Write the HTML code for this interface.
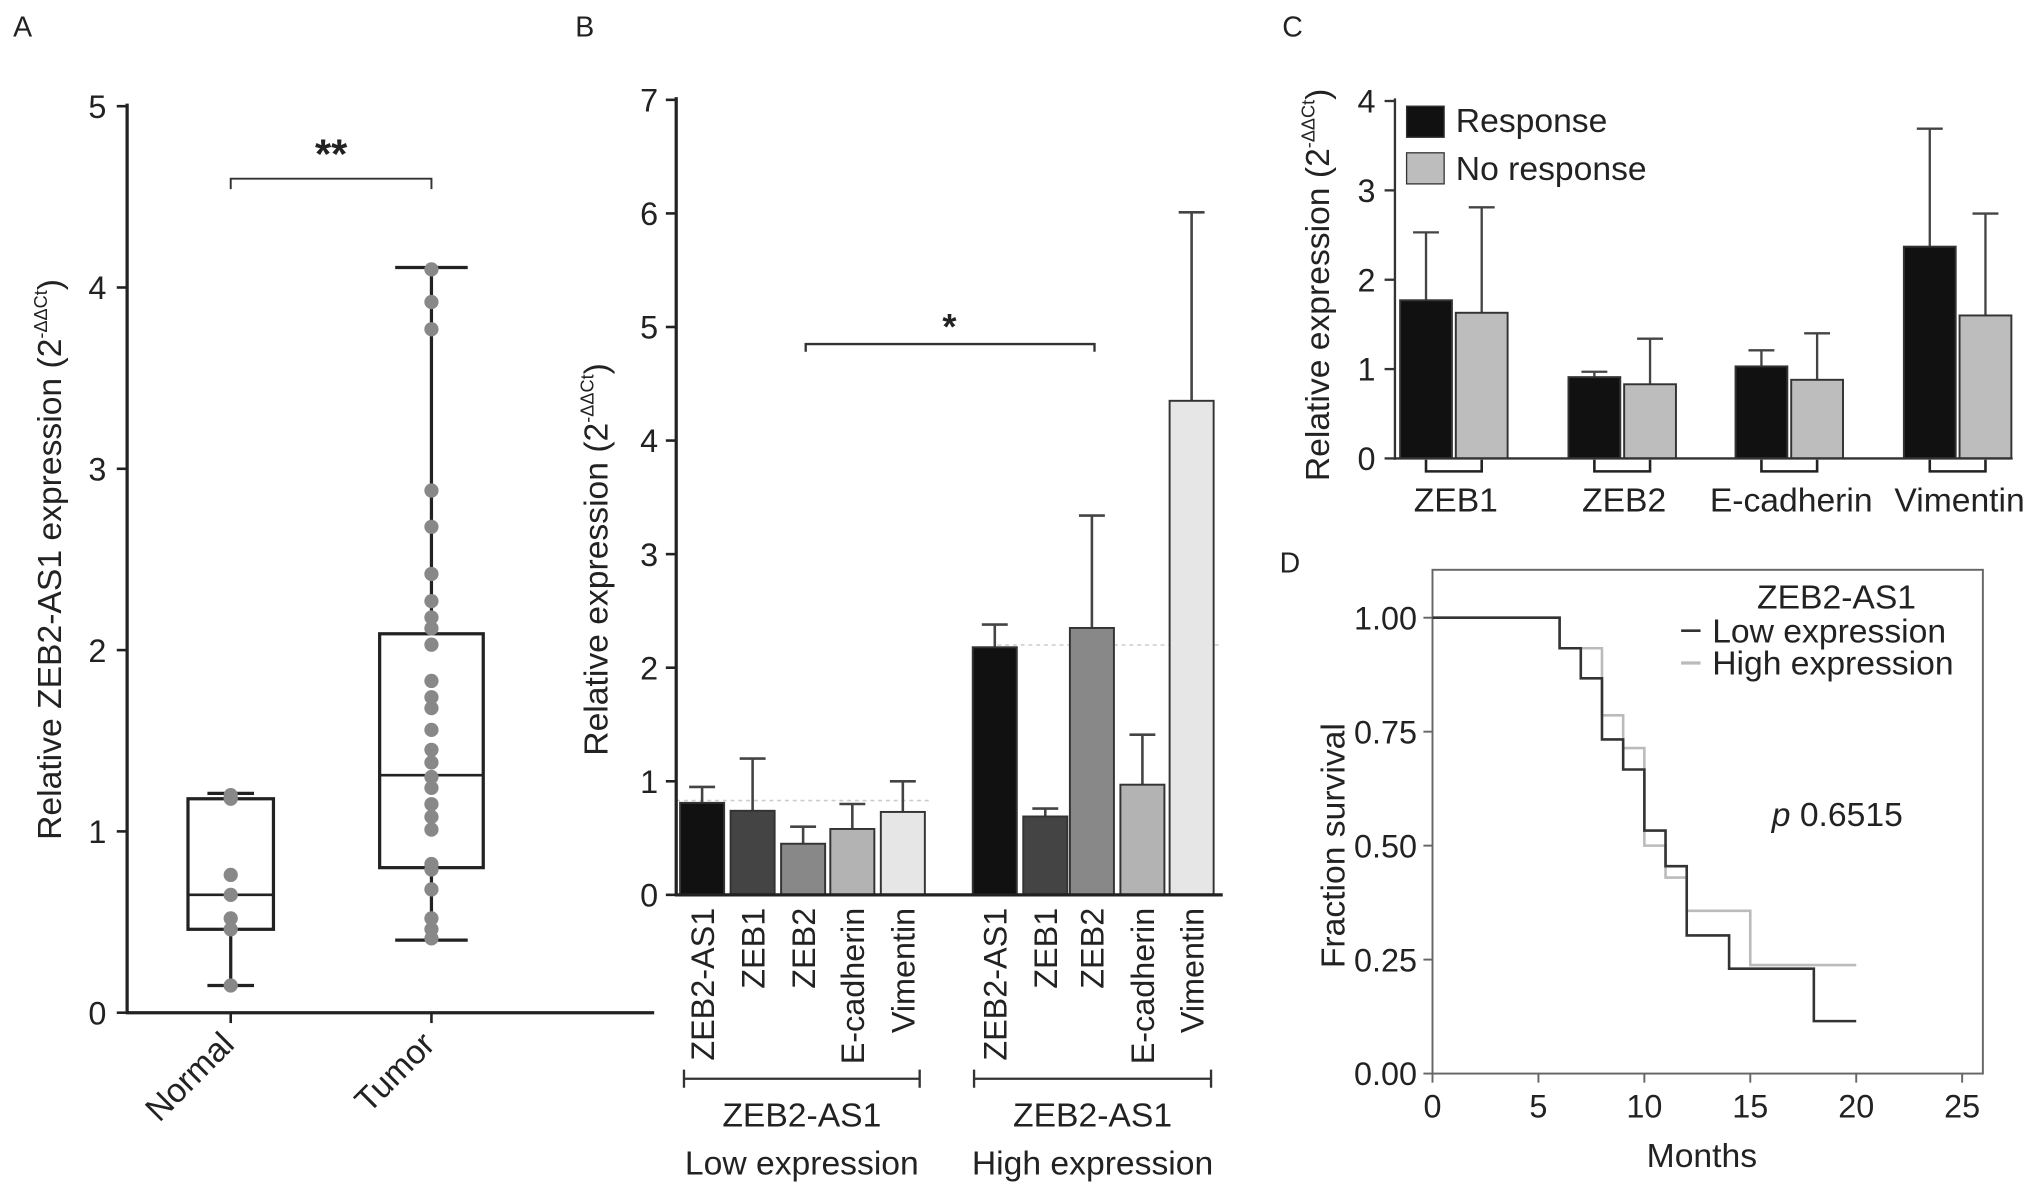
<!DOCTYPE html>
<html><head><meta charset="utf-8"><style>
html,body{margin:0;padding:0;background:#fff}
svg{display:block}
text{font-family:"Liberation Sans",sans-serif;fill:#222}
</style></head><body>
<svg id="fig" width="2031" height="1194" viewBox="0 0 1568 922" xmlns="http://www.w3.org/2000/svg">
<text x="10" y="28" font-size="22">A</text>
<text x="444" y="28" font-size="22">B</text>
<text x="990" y="28" font-size="22">C</text>
<text x="988" y="442" font-size="22">D</text>
<g id="A"></g>
<g id="B"></g>
<g id="C"></g>
<g id="D"></g>
</svg>
<script>
// ---- Panel A data
const aCategories = ["Normal","Tumor"];
const aTicks = [0,1,2,3,4,5];
const aNormalPoints = [1.2,1.18,0.76,0.65,0.52,0.46,0.15];
const aTumorPoints = [4.1,3.92,3.77,2.88,2.68,2.42,2.27,2.18,2.12,2.03,1.83,1.74,1.68,1.56,1.45,1.38,1.3,1.24,1.15,1.08,1.01,0.82,0.79,0.68,0.52,0.46,0.41];
const aNormalBox = [0.15,0.46,0.65,1.18,1.21];
const aTumorBox = [0.4,0.8,1.31,2.09,4.11];
// ---- Panel B data
const bGroups = ["Low expression","High expression"];
const bGenes = ["ZEB2-AS1","ZEB1","ZEB2","E-cadherin","Vimentin"];
const bTicks = [0,1,2,3,4,5,6,7];
const bLowValues = [0.81,0.74,0.45,0.58,0.73];
const bLowErrors = [0.95,1.2,0.6,0.8,1.0];
const bHighValues = [2.18,0.69,2.35,0.97,4.35];
const bHighErrors = [2.38,0.76,3.34,1.41,6.01];
// ---- Panel C data
const cGenes = ["ZEB1","ZEB2","E-cadherin","Vimentin"];
const cTicks = [0,1,2,3,4];
const cResponse = [1.77,0.91,1.03,2.37];
const cResponseErr = [2.53,0.97,1.21,3.69];
const cNoResponse = [1.63,0.83,0.88,1.6];
const cNoResponseErr = [2.81,1.34,1.4,2.74];
// ---- Panel D data
const dXTicks = [0,5,10,15,20,25];
const dYTicks = [0,0.25,0.5,0.75,1.0];
const dLowTimes = [0,6,7,8,9,10,11,12,14,18,20];
const dLowSurv = [1,0.933,0.867,0.733,0.667,0.533,0.455,0.303,0.23,0.115,0.115];
const dHighTimes = [0,6,8,9,10,11,12,15,20];
const dHighSurv = [1,0.933,0.786,0.714,0.5,0.43,0.357,0.238,0.238];

const NS="http://www.w3.org/2000/svg";
function mk(parent,tag,attrs,txt){const e=document.createElementNS(NS,tag);for(const k in attrs)e.setAttribute(k,attrs[k]);if(txt!==undefined)e.textContent=txt;parent.appendChild(e);return e;}
function ln(p,x1,y1,x2,y2,st,w){return mk(p,'line',{x1,y1,x2,y2,stroke:st||'#222','stroke-width':w||2});}
const TF=25, LF=26;

// ===== Panel A
(function(){
const g=document.getElementById('A');
const y=v=>782-v*140; const xs=[178,333];
let e=ln(g,98,80,98,783,'#222',2.5);


e=ln(g,97,782,505,782,'#222',2.5);


aTicks.forEach(t=>{ln(g,90,y(t),98,y(t),'#222',2);
 e=mk(g,'text',{x:82,y:y(t)+9,'font-size':TF,'text-anchor':'end'},t);
 
 });
xs.forEach((x,i)=>{ln(g,x,782,x,790,'#222',2);
 e=mk(g,'text',{x:x+4,y:808,'font-size':LF,'text-anchor':'end',transform:`rotate(-45 ${x+4} 808)`},aCategories[i]);
 
 });
e=mk(g,'text',{x:0,y:0,'font-size':LF,'text-anchor':'middle',transform:'translate(47 432) rotate(-90)'});


e.innerHTML='Relative ZEB2-AS1 expression (2<tspan font-size="14" dy="-11">-ΔΔCt</tspan><tspan dy="11">)</tspan>';
const boxes=[aNormalBox,aTumorBox], hw=[33,40], cap=[18,28], pts=[aNormalPoints,aTumorPoints];
boxes.forEach((b,i)=>{const x=xs[i];
 ln(g,x,y(b[0]),x,y(b[1]),'#222',2.5); ln(g,x,y(b[3]),x,y(b[4]),'#222',2.5);
 ln(g,x-cap[i],y(b[0]),x+cap[i],y(b[0]),'#222',2.5); ln(g,x-cap[i],y(b[4]),x+cap[i],y(b[4]),'#222',2.5);
 e=mk(g,'rect',{x:x-hw[i],y:y(b[3]),width:hw[i]*2,height:y(b[1])-y(b[3]),fill:'none',stroke:'#222','stroke-width':2.5});
 
 
 ln(g,x-hw[i],y(b[2]),x+hw[i],y(b[2]),'#222',2);
 pts[i].forEach(v=>{e=mk(g,'circle',{cx:x,cy:y(v),r:5.5,fill:'#888'});
  
  });
});
const by=y(4.6);
mk(g,'path',{d:`M${xs[0]} ${by+8}V${by}H${xs[1]}V${by+8}`,fill:'none',stroke:'#333','stroke-width':1.5});
e=mk(g,'text',{x:(xs[0]+xs[1])/2,y:by-8,'font-size':32,'font-weight':'bold','text-anchor':'middle'},'**');


})();

// ===== Panel B
(function(){
const g=document.getElementById('B');
const y=v=>691-v*87.7;
const starts=[[525,564,603,641,680],[751,790,826,865,903]], bw=34;
const cols=['#111','#444','#888','#b3b3b3','#e6e6e6'];
const vals=[bLowValues,bHighValues], errs=[bLowErrors,bHighErrors];
let e;
ln(g,522,y(0.83),720,y(0.83),'#ccc',1.2).setAttribute('stroke-dasharray','3 3');
ln(g,770,y(2.2),944,y(2.2),'#ccc',1.2).setAttribute('stroke-dasharray','3 3');
vals.forEach((vs,gi)=>vs.forEach((v,i)=>{const x=starts[gi][i];
 ln(g,x+bw/2,y(v),x+bw/2,y(errs[gi][i]),'#444',2); ln(g,x+bw/2-10,y(errs[gi][i]),x+bw/2+10,y(errs[gi][i]),'#444',2);
 e=mk(g,'rect',{x,y:y(v),width:bw,height:y(0)-y(v),fill:cols[i],stroke:'#333','stroke-width':1.5});
 
 
 e=mk(g,'text',{x:0,y:0,'font-size':TF,'text-anchor':'end',transform:`translate(${x+bw/2+9} 701) rotate(-90)`},bGenes[i]);
 
 
}));
e=ln(g,522,75,522,692,'#222',2.5);


e=ln(g,521,691,944,691,'#222',2.5);


bTicks.forEach(t=>{ln(g,514,y(t),522,y(t),'#222',2);
 e=mk(g,'text',{x:508,y:y(t)+9,'font-size':TF,'text-anchor':'end'},t);
 
 });
e=mk(g,'text',{x:0,y:0,'font-size':LF,'text-anchor':'middle',transform:'translate(469 432) rotate(-90)'});


e.innerHTML='Relative expression (2<tspan font-size="14" dy="-11">-ΔΔCt</tspan><tspan dy="11">)</tspan>';
const by=y(4.85);
mk(g,'path',{d:`M622 ${by+6}V${by}H845V${by+6}`,fill:'none',stroke:'#333','stroke-width':1.8});
e=mk(g,'text',{x:733,y:by-4,'font-size':28,'font-weight':'bold','text-anchor':'middle'},'*');


[[528,710],[752,935]].forEach((r,i)=>{
 mk(g,'path',{d:`M${r[0]} 826V840M${r[0]} 833H${r[1]}M${r[1]} 826V840`,fill:'none',stroke:'#333','stroke-width':1.8});
 const cx=(r[0]+r[1])/2;
 e=mk(g,'text',{x:cx,y:870,'font-size':LF,'text-anchor':'middle'},'ZEB2-AS1');
 
 
 e=mk(g,'text',{x:cx,y:907,'font-size':LF,'text-anchor':'middle'},bGroups[i]);
 
 
});
})();

// ===== Panel C
(function(){
const g=document.getElementById('C');
const y=v=>354-v*69;
const bx=[1081,1211,1340,1470], bw=40, gap=3;
let e;
cGenes.forEach((name,i)=>{
 const x1=bx[i], x2=bx[i]+bw+gap;
 [[cResponse,cResponseErr,'#111',x1,'response'],[cNoResponse,cNoResponseErr,'#bdbdbd',x2,'no-response']].forEach(s=>{
  const v=s[0][i], er=s[1][i], x=s[3];
  ln(g,x+bw/2,y(v),x+bw/2,y(er),'#444',1.8); ln(g,x+bw/2-10,y(er),x+bw/2+10,y(er),'#444',1.8);
  e=mk(g,'rect',{x,y:y(v),width:bw,height:y(0)-y(v),fill:s[2],stroke:'#333','stroke-width':1.5});
  
  
 });
 mk(g,'path',{d:`M${x1+bw/2} 355V364H${x2+bw/2}V355`,fill:'none',stroke:'#222','stroke-width':2});
 e=mk(g,'text',{x:x2,y:395,'font-size':LF,'text-anchor':'middle'},name);
 
 
});
e=ln(g,1077,76,1077,355,'#333',1.8);


e=ln(g,1076,354,1554,354,'#333',1.8);


cTicks.forEach(t=>{ln(g,1069,y(t),1077,y(t),'#333',1.8);
 e=mk(g,'text',{x:1062,y:y(t)+9,'font-size':TF,'text-anchor':'end'},t);
 
 });
e=mk(g,'text',{x:0,y:0,'font-size':LF,'text-anchor':'middle',transform:'translate(1026 220) rotate(-90)'});


e.innerHTML='Relative expression (2<tspan font-size="14" dy="-11">-ΔΔCt</tspan><tspan dy="11">)</tspan>';
e=mk(g,'rect',{x:1086,y:82,width:29,height:24,fill:'#111',stroke:'#333'});


e=mk(g,'text',{x:1124,y:102,'font-size':LF},'Response');


e=mk(g,'rect',{x:1086,y:118,width:29,height:24,fill:'#bdbdbd',stroke:'#333'});


e=mk(g,'text',{x:1124,y:139,'font-size':LF},'No response');


})();

// ===== Panel D
(function(){
const g=document.getElementById('D');
const x=v=>1106+v*16.36, y=v=>829-v*352;
let e=mk(g,'rect',{x:1106,y:440,width:425,height:389,fill:'none',stroke:'#666','stroke-width':1.5});


dXTicks.forEach(t=>{ln(g,x(t),829,x(t),836,'#666',1.5);
 e=mk(g,'text',{x:x(t),y:863,'font-size':TF,'text-anchor':'middle'},t);
 
 });
dYTicks.forEach(t=>{ln(g,1099,y(t),1106,y(t),'#666',1.5);
 e=mk(g,'text',{x:1094,y:y(t)+9,'font-size':TF,'text-anchor':'end'},t.toFixed(2));
 
 });
function step(ts,ss){let d=`M${x(ts[0])} ${y(ss[0])}`;for(let i=1;i<ts.length;i++){d+=`H${x(ts[i])}V${y(ss[i])}`;}return d;}
e=mk(g,'path',{d:step(dHighTimes,dHighSurv),fill:'none',stroke:'#bbb','stroke-width':2});


e=mk(g,'path',{d:step(dLowTimes,dLowSurv),fill:'none',stroke:'#333','stroke-width':2});


e=mk(g,'text',{x:1418,y:470,'font-size':LF,'text-anchor':'middle'},'ZEB2-AS1');


ln(g,1298,487,1313,487,'#333',2);
e=mk(g,'text',{x:1322,y:496,'font-size':LF},'Low expression');


ln(g,1298,512,1313,512,'#bbb',2.5);
e=mk(g,'text',{x:1322,y:521,'font-size':LF},'High expression');


e=mk(g,'text',{x:1368,y:638,'font-size':LF});


e.innerHTML='<tspan font-style="italic">p</tspan> 0.6515';
e=mk(g,'text',{x:0,y:0,'font-size':LF,'text-anchor':'middle',transform:'translate(1038 653) rotate(-90)'},'Fraction survival');


e=mk(g,'text',{x:1314,y:901,'font-size':LF,'text-anchor':'middle'},'Months');


})();
</script>
</body></html>
